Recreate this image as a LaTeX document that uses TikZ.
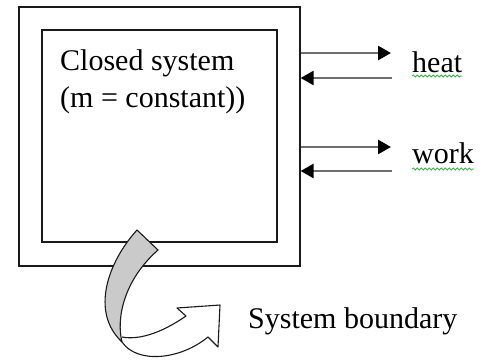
\documentclass[tikz,border=0pt]{standalone}
\usepackage{fontspec}
\setmainfont{Liberation Serif}
\usetikzlibrary{arrows.meta,positioning,decorations.pathmorphing}
\definecolor{cInk}{HTML}{1A1A1A}
\definecolor{cShaft}{HTML}{6E6E6E}
\definecolor{cRibbon}{HTML}{CACACA}
\definecolor{cSpell}{HTML}{3DB24A}
\tikzset{
  wall/.style     = {draw=cInk, line width=1.6pt, inner sep=0pt, anchor=north west},
  txt/.style      = {font=\fontsize{30}{36}\selectfont, text=black, inner sep=0pt, anchor=base west},
  flow/.style     = {draw=cShaft, line width=2.6pt,
                     -{Triangle[length=13pt,width=14pt,color=black]}},
  squiggle/.style = {draw=cSpell, line width=0.8pt, decorate,
                     decoration={snake, segment length=4pt, amplitude=1.1pt}},
  ribbon/.style   = {draw=cInk, line width=1.1pt, line join=round},
}

\begin{document}
\begin{tikzpicture}[x=1pt, y=-1pt]
  \useasboundingbox (0,0) rectangle (482,360);
  % system boundary and the system inside it
  \node[wall, minimum width=281pt, minimum height=259pt] (outer) at (18,6) {};
  \node[wall, minimum width=235pt, minimum height=212pt] (inner) at (41,29) {};
  \node[txt] (title) at (60,70) {Closed system};
  \node[txt] (mass) at (60,107) {(m = constant))};
  % energy crossing the boundary
  \coordinate (heatout) at (391,53);
  \coordinate (heatin)  at (392,78);
  \coordinate (workout) at (391,147);
  \coordinate (workin)  at (392,171);
  \draw[flow] (outer.east |- heatout) -- (heatout);
  \draw[flow] (heatin) -- (outer.east |- heatin);
  \draw[flow] (outer.east |- workout) -- (workout);
  \draw[flow] (workin) -- (outer.east |- workin);
  \node[txt] (heat) at (412,72) {heat};
  \node[txt] (work) at (412,163) {work};
  \draw[squiggle] ([yshift=-4pt]heat.base west) -- ([yshift=-4pt]heat.base east);
  \draw[squiggle] ([yshift=-6pt]work.base west) -- ([yshift=-6pt]work.base east);
  % twisted pointer to the boundary
  \filldraw[ribbon, fill=white] (122,342) .. controls (137,364) and (180,360) .. (208,337)
    -- (218,347) -- (220,305) -- (177,308) -- (186,316)
    .. controls (160,334) and (138,340) .. (122,337);
  \filldraw[ribbon, fill=cRibbon] (137,230) .. controls (108,262) and (90,312) .. (122,342)
    .. controls (116,318) and (124,280) .. (158,250) -- cycle;
  \node[txt] (bound) at (248,328) {System boundary};
\end{tikzpicture}
\end{document}
